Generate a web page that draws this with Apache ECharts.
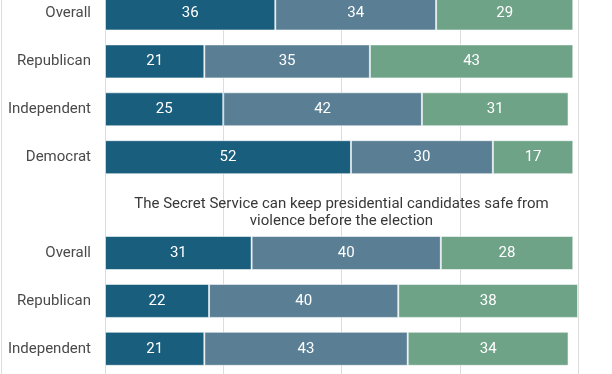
<!DOCTYPE html>
<html>
<head>
<meta charset="utf-8">
<script src="https://cdn.jsdelivr.net/npm/echarts@6/dist/echarts.min.js"></script>
<style>
html,body{margin:0;padding:0;background:#fff;}
#c{width:612px;height:374px;}
</style>
</head>
<body>
<div id="c"></div>
<script>
// Row labels for each panel
const groups = ['Overall', 'Republican', 'Independent', 'Democrat'];
const panel2Title = 'The Secret Service can keep presidential candidates safe from\nviolence before the election';

// Panel 1 (top, its heading is cropped out of view)
const p1Dark  = [36, 21, 25, 52];
const p1Mid   = [34, 35, 42, 30];
const p1Green = [29, 43, 31, 17];

// Panel 2 (Democrat row lies below the visible area)
const p2Dark  = [31, 22, 21, null];
const p2Mid   = [40, 40, 43, null];
const p2Green = [28, 38, 34, null];

const seriesNames = ['Series 1', 'Series 2', 'Series 3'];
const colors = ['#1a5e7e', '#5a7f95', '#6fa388'];
const xTicks = [0, 25, 50, 75, 100];

// Build one category axis: panel1 rows, a spacer row (panel 2 heading), panel2 rows
const rowKeys = [];
const rowLabels = [];
groups.forEach((g, i) => { rowKeys.push('p1_' + i); rowLabels.push(g); });
rowKeys.push('gap'); rowLabels.push('');
groups.forEach((g, i) => { rowKeys.push('p2_' + i); rowLabels.push(g); });

const combine = (a, b) => [...a, null, ...b];
const seriesData = [combine(p1Dark, p2Dark), combine(p1Mid, p2Mid), combine(p1Green, p2Green)];

const chart = echarts.init(document.getElementById('c'), null, {renderer: 'canvas'});
const band = 47.9;
const firstCenter = 13.5;
const gridTop = firstCenter - band / 2;

chart.setOption({
  animation: false,
  textStyle: {fontFamily: 'Roboto'},
  grid: {left: 105, right: 34, top: gridTop, height: band * rowKeys.length, containLabel: false, outerBoundsMode: 'none'},
  xAxis: {
    type: 'value', min: xTicks[0], max: xTicks[xTicks.length - 1], interval: 25,
    axisLabel: {show: false}, axisLine: {show: false}, axisTick: {show: false},
    splitLine: {show: true, lineStyle: {color: '#dcdcdc', width: 1}}
  },
  yAxis: {
    type: 'category', inverse: true, data: rowKeys,
    axisLine: {show: false}, axisTick: {show: false},
    axisLabel: {
      margin: 14, color: '#4a4a4a', fontSize: 15, fontFamily: 'Roboto',
      formatter: (v, i) => rowLabels[i]
    }
  },
  graphic: [
    {type: 'line', shape: {x1: 1.5, y1: 0, x2: 1.5, y2: 374}, style: {stroke: '#dddddd', lineWidth: 1}, silent: true},
    {type: 'text', x: 341.5, y: 213, silent: true, z: 10,
     style: {text: panel2Title, fill: '#383838', font: '15px Roboto', align: 'center', verticalAlign: 'middle', lineHeight: 17}}
  ],
  series: seriesNames.map((n, k) => ({
    name: n, type: 'bar', stack: 'total', barWidth: 34,
    data: seriesData[k],
    itemStyle: {color: colors[k], borderColor: 'rgba(255,255,255,0.55)', borderWidth: 1},
    label: {show: true, position: 'inside', color: '#fff', fontSize: 15, fontFamily: 'Roboto'}
  }))
});
</script>
</body>
</html>
